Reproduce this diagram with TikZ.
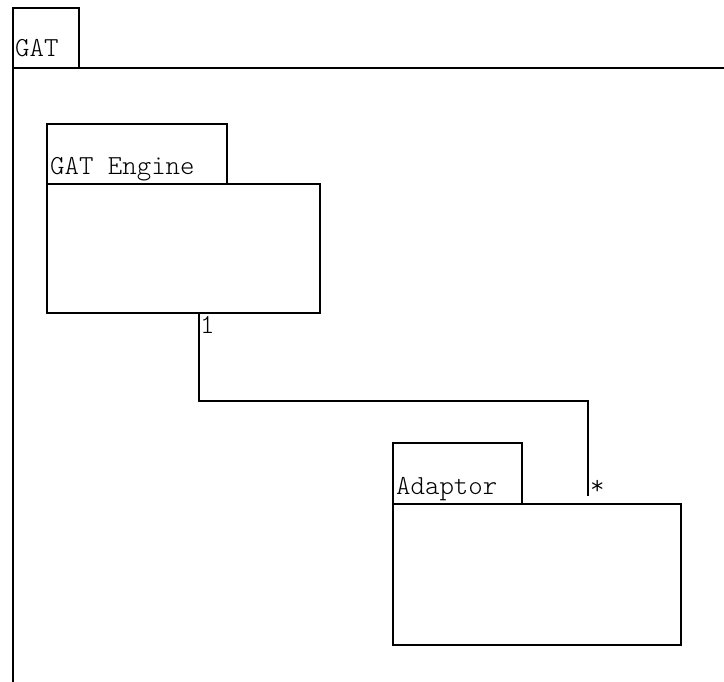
\documentclass[tikz,border=0pt]{standalone}
\usepackage{fontspec}
\setmonofont{Latin Modern Mono Light}
\begin{document}
\begin{tikzpicture}[x=1pt,y=-1pt,
  box/.style={draw,line width=1.6pt,anchor=north west,inner sep=0pt,outer sep=0pt},
  lbl/.style={anchor=base west,inner sep=0pt,font=\ttfamily\fontsize{27.5}{32}\selectfont},
  conn/.style={line width=1.6pt}]
\useasboundingbox (0,0) rectangle (724,682);
% outer package
\node[box,minimum width=66pt,minimum height=60pt] (gattab) at (13,8) {};
\node[lbl] (gatlbl) at (15,57) {GAT};
\coordinate (gatbl) at (13,700);
\coordinate (gattr) at (740,68);
\draw[conn] (gatbl) -- (gattab.south west) -- (gattr);
% GAT Engine
\node[box,minimum width=180pt,minimum height=60pt] (engtab) at (47,124) {};
\node[box,minimum width=273pt,minimum height=129pt] (engbody) at (47,184) {};
\node[lbl] (englbl) at (50,175) {GAT Engine};
% Adaptor
\node[box,minimum width=129pt,minimum height=61pt] (adtab) at (393,443) {};
\node[box,minimum width=288pt,minimum height=141pt] (adbody) at (393,504) {};
\node[lbl] (adlbl) at (396,494) {Adaptor};
% connector
\coordinate (cstart) at (199,313);
\coordinate (cend) at (588,496);
\draw[conn] (cstart) -- (199,401) -| (cend);
\node[lbl] (one) at (200,334) {1};
\node[lbl] (star) at (590,494) {*};
\end{tikzpicture}
\end{document}
